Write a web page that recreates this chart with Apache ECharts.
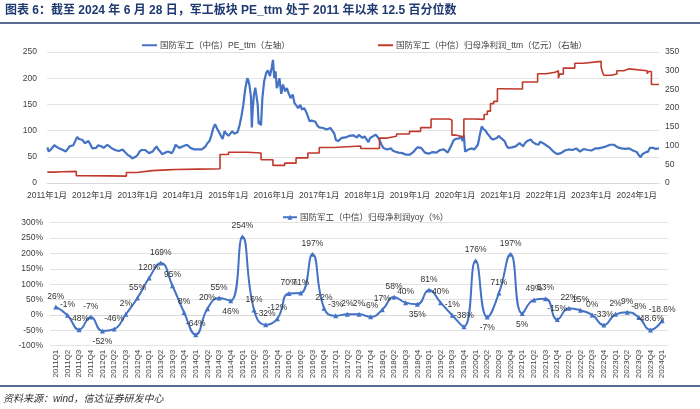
<!DOCTYPE html>
<html><head><meta charset="utf-8">
<script src="https://cdn.jsdelivr.net/npm/echarts@6/dist/echarts.min.js"></script>
<style>html,body{margin:0;padding:0;background:#fff}#c{width:700px;height:409px}</style>
</head><body><div id="c"></div>
<script>
const titleText = '图表 6：截至 2024 年 6 月 28 日，军工板块 PE_ttm 处于 2011 年以来 12.5 百分位数';
const sourceText = '资料来源：wind，信达证券研发中心';
const peName = '国防军工（中信）PE_ttm（左轴）';
const profitName = '国防军工（中信）归母净利润_ttm（亿元）（右轴）';
const yoyName = '国防军工（中信）归母净利润yoy（%）';
const yearTicks = [2011,2012,2013,2014,2015,2016,2017,2018,2019,2020,2021,2022,2023,2024];

const peData = [
['2011-01-04',68],['2011-01-15',60],['2011-02-01',64],['2011-02-15',67],['2011-03-01',72],['2011-03-15',70],['2011-04-01',67],['2011-04-15',65],['2011-05-01',64],['2011-05-15',62],['2011-06-01',60],['2011-06-15',63],['2011-07-01',70],['2011-07-15',73],['2011-08-01',72],['2011-08-15',70],['2011-09-01',88],['2011-09-15',84],['2011-10-01',86],['2011-10-15',82],['2011-11-01',76],['2011-11-15',78],['2011-12-01',80],['2011-12-15',74],
['2012-01-01',66],['2012-01-15',63],['2012-02-01',67],['2012-02-15',72],['2012-03-01',74],['2012-03-15',70],['2012-04-01',67],['2012-04-15',70],['2012-05-01',73],['2012-05-15',70],['2012-06-01',67],['2012-06-15',65],['2012-07-01',63],['2012-07-15',60],['2012-08-01',61],['2012-08-15',59],['2012-09-01',64],['2012-09-15',60],['2012-10-01',57],['2012-10-15',53],['2012-11-01',51],['2012-11-15',47],['2012-12-01',45],['2012-12-15',50],
['2013-01-01',54],['2013-01-15',60],['2013-02-01',63],['2013-02-15',65],['2013-03-01',63],['2013-03-15',62],['2013-04-01',57],['2013-04-15',58],['2013-05-01',60],['2013-05-15',65],['2013-06-01',70],['2013-06-15',64],['2013-07-01',60],['2013-07-15',55],['2013-08-01',57],['2013-08-15',57],['2013-09-01',60],['2013-09-15',59],['2013-10-01',57],['2013-10-15',62],['2013-11-01',73],['2013-11-15',70],['2013-12-01',67],['2013-12-15',69],
['2014-01-01',70],['2014-01-15',72],['2014-02-01',73],['2014-02-15',70],['2014-03-01',67],['2014-03-15',66],['2014-04-01',64],['2014-04-15',65],['2014-05-01',64],['2014-05-15',67],['2014-06-01',64],['2014-06-15',62],['2014-07-01',70],['2014-07-15',76],['2014-08-01',80],['2014-08-15',90],['2014-09-01',105],['2014-09-15',112],['2014-10-01',104],['2014-10-15',98],['2014-11-01',90],['2014-11-15',84],['2014-12-01',99],['2014-12-15',94],
['2015-01-01',90],['2015-01-15',87],['2015-02-01',99],['2015-02-15',94],['2015-03-01',92],['2015-03-15',97],['2015-04-01',111],['2015-04-15',127],['2015-05-01',150],['2015-05-15',178],['2015-06-01',200],['2015-06-10',196],['2015-06-20',185],['2015-07-01',165],['2015-07-08',106],['2015-07-15',140],['2015-07-25',168],['2015-08-05',182],['2015-08-15',180],['2015-08-24',150],['2015-09-01',112],['2015-09-10',118],['2015-09-20',110],['2015-10-01',162],['2015-10-15',194],['2015-11-01',210],['2015-11-15',215],['2015-12-01',204],['2015-12-15',220],['2015-12-25',235],
['2016-01-05',200],['2016-01-15',213],['2016-01-25',181],['2016-02-05',188],['2016-02-15',200],['2016-03-01',170],['2016-03-15',188],['2016-04-01',175],['2016-04-15',181],['2016-05-01',170],['2016-05-15',162],['2016-06-01',169],['2016-06-15',153],['2016-07-01',156],['2016-07-15',143],['2016-08-01',149],['2016-08-15',140],['2016-09-01',143],['2016-09-15',137],['2016-10-01',127],['2016-10-15',118],['2016-11-01',119],['2016-11-15',118],['2016-12-01',117],['2016-12-15',110],
['2017-01-01',106],['2017-01-15',105],['2017-02-01',105],['2017-02-15',103],['2017-03-01',102],['2017-03-15',104],['2017-04-01',105],['2017-04-15',100],['2017-05-01',95],['2017-05-15',82],['2017-06-01',80],['2017-06-15',83],['2017-07-01',86],['2017-07-15',85],['2017-08-01',87],['2017-08-15',88],['2017-09-01',90],['2017-09-15',87],['2017-10-01',91],['2017-10-15',89],['2017-11-01',87],['2017-11-15',92],['2017-12-01',90],['2017-12-15',86],
['2018-01-01',89],['2018-01-15',86],['2018-02-01',78],['2018-02-15',86],['2018-03-01',84],['2018-03-15',90],['2018-04-01',92],['2018-04-15',88],['2018-05-01',82],['2018-05-15',74],['2018-06-01',67],['2018-06-15',68],['2018-07-01',64],['2018-07-15',65],['2018-08-01',66],['2018-08-15',62],['2018-09-01',60],['2018-09-15',63],['2018-10-01',58],['2018-10-15',55],['2018-11-01',57],['2018-11-15',55],['2018-12-01',54],['2018-12-15',53],
['2019-01-01',54],['2019-01-15',57],['2019-02-01',60],['2019-02-15',63],['2019-03-01',68],['2019-03-15',70],['2019-04-01',67],['2019-04-15',63],['2019-05-01',58],['2019-05-15',57],['2019-06-01',56],['2019-06-15',58],['2019-07-01',59],['2019-07-15',57],['2019-08-01',58],['2019-08-15',61],['2019-09-01',63],['2019-09-15',61],['2019-10-01',64],['2019-10-15',62],['2019-11-01',58],['2019-11-15',60],['2019-12-01',72],['2019-12-15',80],
['2020-01-01',84],['2020-01-15',86],['2020-02-01',85],['2020-02-15',89],['2020-03-01',80],['2020-03-10',91],['2020-03-20',60],['2020-04-01',62],['2020-04-15',64],['2020-05-01',67],['2020-05-15',66],['2020-06-01',64],['2020-06-15',67],['2020-07-01',73],['2020-07-15',90],['2020-08-01',108],['2020-08-15',103],['2020-09-01',100],['2020-09-15',94],['2020-10-01',90],['2020-10-15',85],['2020-11-01',83],['2020-11-15',84],['2020-12-01',86],['2020-12-15',90],
['2021-01-01',86],['2021-01-15',83],['2021-02-01',80],['2021-02-15',72],['2021-03-01',67],['2021-03-15',70],['2021-04-01',68],['2021-04-15',67],['2021-05-01',70],['2021-05-15',73],['2021-06-01',76],['2021-06-15',73],['2021-07-01',70],['2021-07-15',76],['2021-08-01',80],['2021-08-15',82],['2021-09-01',83],['2021-09-15',78],['2021-10-01',76],['2021-10-15',74],['2021-11-01',73],['2021-11-15',79],['2021-12-01',80],['2021-12-15',75],
['2022-01-01',72],['2022-01-15',69],['2022-02-01',67],['2022-02-15',65],['2022-03-01',60],['2022-03-15',57],['2022-04-01',55],['2022-04-15',54],['2022-05-01',57],['2022-05-15',60],['2022-06-01',62],['2022-06-15',64],['2022-07-01',64],['2022-07-15',65],['2022-08-01',63],['2022-08-15',62],['2022-09-01',66],['2022-09-15',67],['2022-10-01',60],['2022-10-15',62],['2022-11-01',65],['2022-11-15',64],['2022-12-01',63],['2022-12-15',60],
['2023-01-01',62],['2023-01-15',65],['2023-02-01',66],['2023-02-15',67],['2023-03-01',66],['2023-03-15',65],['2023-04-01',68],['2023-04-15',70],['2023-05-01',70],['2023-05-15',71],['2023-06-01',73],['2023-06-15',72],['2023-07-01',73],['2023-07-15',70],['2023-08-01',68],['2023-08-15',67],['2023-09-01',66],['2023-09-15',64],['2023-10-01',65],['2023-10-15',67],['2023-11-01',66],['2023-11-15',65],['2023-12-01',62],['2023-12-15',61],
['2024-01-01',59],['2024-01-15',54],['2024-02-01',49],['2024-02-15',55],['2024-03-01',57],['2024-03-15',59],['2024-04-01',60],['2024-04-15',67],['2024-05-01',68],['2024-05-15',67],['2024-06-01',65],['2024-06-15',66],['2024-06-28',66]
];

const profitData = [
['2011-01-04',29],['2011-03-01',30],['2011-05-01',31],['2011-08-25',19.5],['2011-11-01',19],['2012-04-28',18.5],['2012-10-01',28],['2012-12-25',33],
['2013-04-28',35],['2013-08-28',36],['2013-10-30',37],['2014-04-28',37.5],['2014-08-28',38],['2014-10-25',76],['2015-01-01',82],['2015-06-01',80],
['2015-09-20',62],['2015-12-25',47],['2016-03-28',53],['2016-06-28',67],['2016-10-01',80],['2017-01-01',95],['2017-05-01',99],['2017-12-01',92],
['2018-05-01',120],['2018-07-01',125],['2018-09-15',131],['2018-12-28',138],['2019-03-28',148],['2019-06-20',171],['2019-11-15',168],['2019-12-05',128],
['2020-01-01',123],['2020-03-10',171],['2020-06-01',170],['2020-08-20',183],['2020-09-15',192],['2020-10-10',212],['2020-11-05',218],['2020-12-05',252],
['2021-01-01',251],['2021-06-25',270],['2021-10-25',292],['2022-01-01',296],['2022-03-15',300],['2022-04-10',280],['2022-04-20',291],['2022-05-20',307],
['2022-08-20',320],['2022-10-30',325],['2023-03-20',310],['2023-03-28',300],['2023-04-10',288],['2023-06-10',291],['2023-07-25',300],['2023-09-20',305],
['2023-10-30',300],['2024-03-25',292],['2024-04-05',298],['2024-04-28',263],['2024-06-28',263]
];

const quarters = [];
for (let y = 2011; y <= 2024; y++) for (let q = 1; q <= 4; q++) { if (y === 2024 && q > 1) break; quarters.push(y + 'Q' + q); }
const yoyValues = [26,-1,-48,-7,-52,-46,2,55,120,169,95,8,-64,20,55,46,254,16,-32,-12,70,71,197,22,-3,2,2,-6,17,58,40,35,81,40,-1,-38,176,-7,71,197,5,49,53,-15,22,15,0,-33,2,9,-8,-48.6,-18.6];
const yoyBelow = ['2012Q1','2014Q4','2018Q4','2020Q2','2021Q1'];

const FONT = '"Liberation Sans", Arial, "Noto Sans CJK SC", sans-serif';
const AX = '#404040';
const GRID = '#E3E3E3';
const BLUE = '#4472C4';
const RED = '#C0392B';
const NAVY = '#1F3A70';
const FS = 8.5;

const ts = s => Date.parse(s + 'T00:00:00Z');
const toXY = arr => arr.map(d => [ts(d[0]), d[1]]);

const chart = echarts.init(document.getElementById('c'), null, {renderer: 'canvas'});
chart.setOption({
  backgroundColor: '#fff',
  textStyle: {fontFamily: FONT},
  animation: false,
  graphic: [
    {type: 'text', left: 5, top: 5, style: {text: titleText, fontSize: 12, fontWeight: 'bold', fill: NAVY, fontFamily: FONT}},
    {type: 'line', shape: {x1: 0, y1: 23, x2: 700, y2: 23}, style: {stroke: NAVY, lineWidth: 1.5}},
    {type: 'line', shape: {x1: 0, y1: 386, x2: 700, y2: 386}, style: {stroke: NAVY, lineWidth: 1.5}},
    {type: 'text', left: 3, top: 394, style: {text: sourceText, fontSize: 10, fontStyle: 'italic', fill: '#333', fontFamily: FONT}}
  ],
  legend: [
    {data: [peName], left: 137, top: 36, itemWidth: 15, itemHeight: 2, icon: 'rect', itemGap: 4,
     textStyle: {fontSize: FS, color: AX, fontFamily: FONT, padding: [0, 0, 0, -2]}},
    {data: [profitName], left: 373, top: 36, itemWidth: 15, itemHeight: 2, icon: 'rect',
     textStyle: {fontSize: FS, color: AX, fontFamily: FONT, padding: [0, 0, 0, -2]}},
    {data: [yoyName], left: 277, top: 208, itemWidth: 14, itemHeight: 6,
     textStyle: {fontSize: FS, color: AX, fontFamily: FONT, padding: [0, 0, 0, -2]}}
  ],
  grid: [
    {left: 47, right: 41, top: 52, height: 131},
    {left: 50, right: 32, top: 222.7, height: 123}
  ],
  xAxis: [
    {type: 'value', gridIndex: 0, min: ts('2011-01-01'), max: ts('2024-06-28'), scale: true,
     axisLine: {show: true, lineStyle: {color: '#D9D9D9'}}, axisTick: {show: false}, splitLine: {show: false},
     axisLabel: {customValues: yearTicks.map(y => ts(y + '-01-01')), formatter: v => new Date(v).getUTCFullYear() + '年1月',
       fontSize: FS, color: AX, margin: 8, showMinLabel: true, showMaxLabel: true, hideOverlap: false}},
    {type: 'category', gridIndex: 1, data: quarters, boundaryGap: true,
     axisLine: {show: true, lineStyle: {color: '#D9D9D9'}}, axisTick: {show: false},
     axisLabel: {rotate: 90, interval: 0, fontSize: 8, color: AX, margin: 4}}
  ],
  yAxis: [
    {type: 'value', gridIndex: 0, min: 0, max: 250, interval: 50,
     axisLabel: {fontSize: FS, color: AX, margin: 10}, axisLine: {show: false}, axisTick: {show: false},
     splitLine: {lineStyle: {color: GRID}}},
    {type: 'value', gridIndex: 0, min: 0, max: 350, interval: 50, position: 'right',
     axisLabel: {fontSize: FS, color: AX, margin: 6}, axisLine: {show: false}, axisTick: {show: false},
     splitLine: {show: false}},
    {type: 'value', gridIndex: 1, min: -100, max: 300, interval: 50,
     axisLabel: {fontSize: FS, color: AX, margin: 7, formatter: '{value}%'}, axisLine: {show: false}, axisTick: {show: false},
     splitLine: {lineStyle: {color: GRID}}}
  ],
  series: [
    {name: peName, type: 'line', xAxisIndex: 0, yAxisIndex: 0, data: toXY(peData), showSymbol: false,
     lineStyle: {color: BLUE, width: 2.2}, itemStyle: {color: BLUE}},
    {name: profitName, type: 'line', xAxisIndex: 0, yAxisIndex: 1, data: toXY(profitData), step: 'end', showSymbol: false,
     lineStyle: {color: RED, width: 1.6}, itemStyle: {color: RED}},
    {name: yoyName, type: 'line', xAxisIndex: 1, yAxisIndex: 2, smooth: 0.5,
     data: yoyValues.map((v, i) => ({value: v, label: {position: yoyBelow.includes(quarters[i]) ? 'bottom' : 'top'}})),
     symbol: 'triangle', symbolSize: 5, lineStyle: {color: BLUE, width: 2}, itemStyle: {color: BLUE},
     label: {show: true, formatter: p => p.value + '%', fontSize: FS, color: '#333', distance: 4}}
  ]
});
</script></body></html>
